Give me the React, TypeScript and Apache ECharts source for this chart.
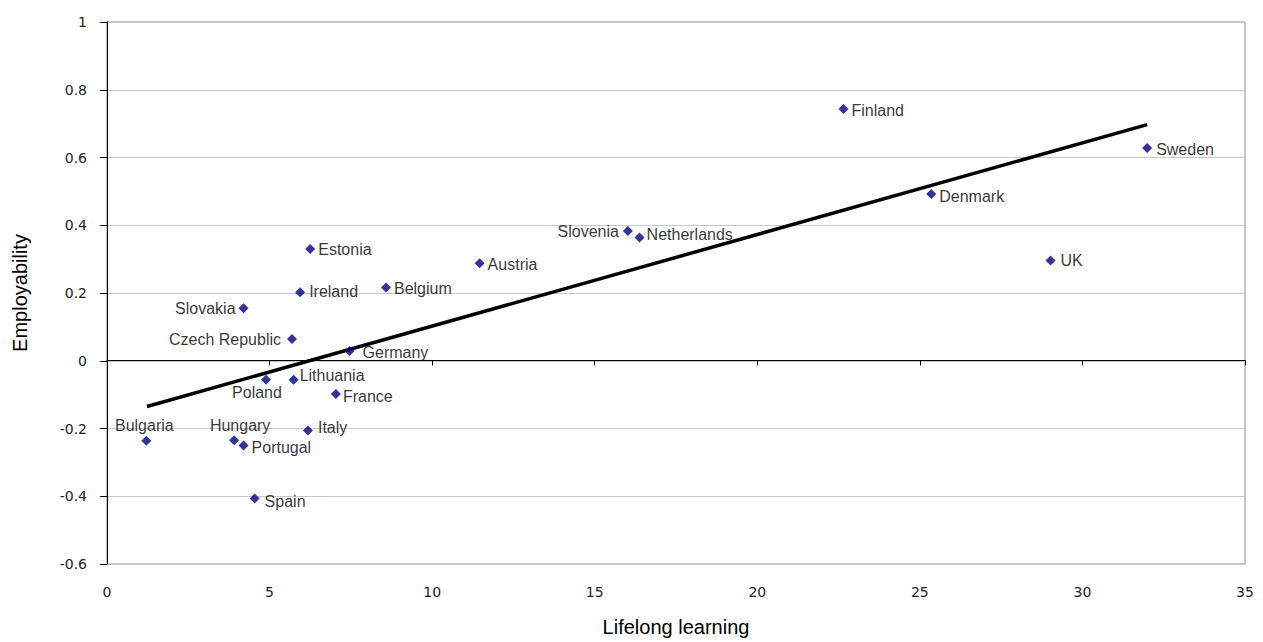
import React, { useEffect, useRef } from "react";
import * as echarts from "echarts";

// Country scores: lifelong learning participation vs. employability index
const countries = [
  "Finland", "Sweden", "Denmark", "UK", "Slovenia", "Netherlands", "Austria",
  "Estonia", "Ireland", "Belgium", "Slovakia", "Czech Republic", "Germany",
  "Poland", "Lithuania", "France", "Bulgaria", "Hungary", "Portugal", "Italy", "Spain",
];
const lifelongLearning = [
  22.65, 31.99, 25.35, 29.02, 16.02, 16.38, 11.46,
  6.25, 5.94, 8.58, 4.2, 5.69, 7.46,
  4.89, 5.74, 7.04, 1.21, 3.91, 4.2, 6.18, 4.54,
];
const employability = [
  0.743, 0.628, 0.492, 0.296, 0.383, 0.364, 0.288,
  0.33, 0.202, 0.216, 0.155, 0.064, 0.029,
  -0.056, -0.056, -0.098, -0.236, -0.235, -0.25, -0.206, -0.407,
];

// Linear trend line end points
const trendX = [1.23, 31.99];
const trendY = [-0.135, 0.697];

// Axis ranges
const xMin = 0, xMax = 35, xStep = 5;
const yMin = -0.6, yMax = 1, yStep = 0.2;

const FONT = "'Liberation Sans', Arial, sans-serif";
const TICK_FONT = "'DejaVu Sans', sans-serif";

// Plot box in pixels
const GRID_LEFT = 107;
const GRID_TOP = 22;
const GRID_W = 1138;
const GRID_H = 543;

// Where each country's name sits relative to its marker
const labelPlacement: Record<string, any> = {
  Slovenia: { position: "left", distance: 4 },
  Slovakia: { position: "left", distance: 3 },
  "Czech Republic": { position: "left", distance: 6 },
  Poland: { position: "bottom", distance: 0, offset: [-9, 0] },
  Hungary: { position: "top", distance: 2, offset: [6, 0] },
  Bulgaria: { position: "top", distance: 2, offset: [-2, 0] },
  Lithuania: { position: "right", distance: 1, offset: [0, -4] },
  Germany: { position: "right", distance: 8, offset: [0, 2] },
  France: { position: "right", distance: 2, offset: [0, 3] },
  Portugal: { position: "right", distance: 3, offset: [0, 2] },
  Netherlands: { position: "right", distance: 2, offset: [0, -3] },
  Sweden: { position: "right", distance: 4, offset: [0, 1] },
  Italy: { position: "right", distance: 5, offset: [0, -3] },
  Spain: { position: "right", distance: 5, offset: [0, 3] },
  Ireland: { position: "right", distance: 4, offset: [0, -1] },
  UK: { position: "right", distance: 5 },
  Denmark: { position: "right", distance: 3, offset: [0, 2] },
};

export default function App() {
  const ref = useRef<HTMLDivElement>(null);

  useEffect(() => {
    if (!ref.current) return;
    const chart = echarts.init(ref.current, null, { renderer: "svg" });

    const points = countries.map((name, i) => {
      const p = labelPlacement[name] || { position: "right", distance: 3, offset: [0, 1] };
      return {
        name,
        value: [lifelongLearning[i], employability[i]],
        label: { position: p.position, distance: p.distance, offset: p.offset || [0, 0] },
      };
    });

    const tickLabel = { color: "#222", fontFamily: TICK_FONT, fontSize: 14 };
    // distance (px) from the bottom of the plot box up to the y = 0 line
    const zeroOffset = (GRID_H * (0 - yMin)) / (yMax - yMin);

    chart.setOption({
      animation: false,
      backgroundColor: "#fff",
      grid: {
        left: GRID_LEFT,
        top: GRID_TOP,
        width: GRID_W,
        height: GRID_H,
        show: true,
        borderColor: "#8c8c8c",
        borderWidth: 1,
        backgroundColor: "transparent",
      },
      xAxis: [
        {
          type: "value",
          position: "bottom",
          min: xMin,
          max: xMax,
          interval: xStep,
          axisLine: { show: false },
          axisTick: { show: false },
          splitLine: { show: false },
          axisLabel: { ...tickLabel, margin: 21 },
          name: "Lifelong learning",
          nameLocation: "middle",
          nameGap: 53,
          nameTextStyle: { color: "#000", fontFamily: FONT, fontSize: 20 },
        },
        {
          // horizontal axis line drawn through y = 0
          type: "value",
          position: "bottom",
          offset: -zeroOffset,
          min: xMin,
          max: xMax,
          interval: xStep,
          axisLine: { show: true, onZero: false, lineStyle: { color: "#000", width: 1 } },
          axisTick: { show: true, length: 5, lineStyle: { color: "#000" } },
          axisLabel: { show: false },
          splitLine: { show: false },
        },
      ],
      yAxis: {
        type: "value",
        min: yMin,
        max: yMax,
        interval: yStep,
        axisLine: { show: true, onZero: false, lineStyle: { color: "#000", width: 1 } },
        axisTick: { show: true, length: 7, lineStyle: { color: "#000" } },
        axisLabel: { ...tickLabel, margin: 20 },
        splitLine: { show: true, lineStyle: { color: "#c8c8c8", width: 1 } },
        name: "Employability",
        nameLocation: "middle",
        nameGap: 77,
        nameTextStyle: { color: "#000", fontFamily: FONT, fontSize: 20 },
      },
      series: [
        {
          type: "line",
          data: trendX.map((x, i) => [x, trendY[i]]),
          showSymbol: false,
          symbol: "none",
          lineStyle: { color: "#000", width: 3.5 },
          silent: true,
          z: 2,
        },
        {
          type: "scatter",
          data: points,
          symbol: "diamond",
          symbolSize: 10,
          itemStyle: { color: "#000080" },
          label: {
            show: true,
            formatter: "{b}",
            color: "#000",
            fontFamily: FONT,
            fontSize: 16,
          },
          z: 3,
        },
      ],
    });

    return () => chart.dispose();
  }, []);

  return <div ref={ref} style={{ width: 1263, height: 642, position: "absolute", left: 0, top: 0 }} />;
}
